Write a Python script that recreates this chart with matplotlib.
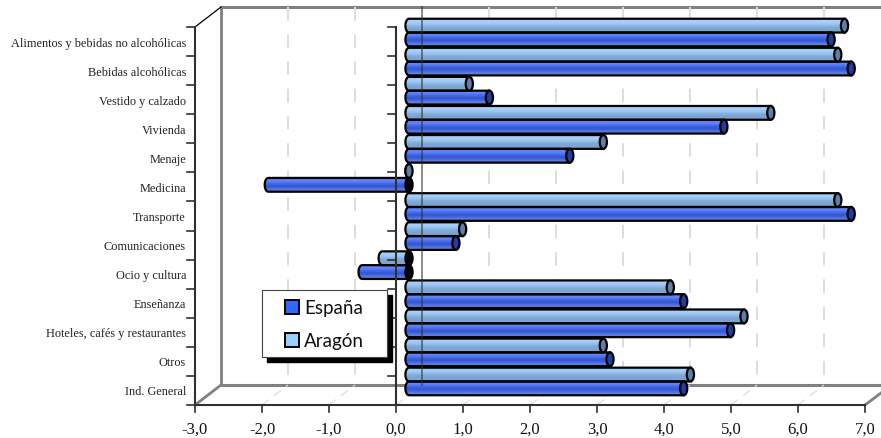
import numpy as np
import matplotlib
matplotlib.use('Agg')
import matplotlib.pyplot as plt
from matplotlib.colors import LinearSegmentedColormap
from matplotlib.patches import Ellipse, PathPatch, Rectangle
from matplotlib.path import Path

categorias = ['Alimentos y bebidas no alcohólicas', 'Bebidas alcohólicas', 'Vestido y calzado',
              'Vivienda', 'Menaje', 'Medicina', 'Transporte', 'Comunicaciones', 'Ocio y cultura',
              'Enseñanza', 'Hoteles, cafés y restaurantes', 'Otros', 'Ind. General']
aragon = [6.5, 6.4, 0.9, 5.4, 2.9, 0.0, 6.4, 0.8, -0.4, 3.9, 5.0, 2.9, 4.2]
espana = [6.3, 6.6, 1.2, 4.7, 2.4, -2.1, 6.6, 0.7, -0.7, 4.1, 4.8, 3.0, 4.1]
xticks = [-3, -2, -1, 0, 1, 2, 3, 4, 5, 6, 7]

W, H = 881, 439
# front plane of the fake 3d box, in pixels
L, R, T, B = 195, 865, 28, 406
px_x = (R - L) / 10
px_y = (B - T) / 13
depth_x = 26 / px_x
depth_y = 20 / px_y

fig = plt.figure(figsize=(W / 100, H / 100), dpi=100)
# axes reach up to the back wall so the first bars are not cut
ax = fig.add_axes([L / W, 1 - B / H, (R - L) / W, (B - T + 20) / H])
ax.axis('off')

ARAGON = ['#a6cff8', '#a6d0fa', '#98c2ef', '#80a9d6', '#7ba3d0', '#86a8d0']
ESPANA = ['#5a7dee', '#5f86fb', '#4468e6', '#3253cc', '#5075e6', '#7088c8']


def cylinder(x0, x1, yc, h, colors, cap_color):
    rx = 3.6 / px_x
    t = np.linspace(np.pi / 2, 3 * np.pi / 2, 20)
    xs = np.r_[x0 + rx * np.cos(t), x1, x1, x0]
    ys = np.r_[yc + h / 2 * np.sin(t), yc - h / 2, yc + h / 2, yc + h / 2]
    outline = Path(np.c_[xs, ys])
    grad = LinearSegmentedColormap.from_list('g', colors)
    im = ax.imshow(np.linspace(0, 1, 32).reshape(-1, 1), cmap=grad, aspect='auto', zorder=4,
                   extent=[x0 - rx, x1, yc + h / 2, yc - h / 2], interpolation='bilinear')
    patch = PathPatch(outline, fc='none', ec='black', lw=1.6, zorder=5, clip_on=False)
    ax.add_patch(patch)
    im.set_clip_path(patch)
    ax.add_patch(Ellipse((x1, yc), 2 * rx, h, fc=cap_color, ec='black', lw=1.6, zorder=6, clip_on=False))


# walls and floor
wall = '#808080'
xb0, xb1 = -3 + depth_x, 7 + 16 / px_x
ax.plot([xb0, xb1], [-depth_y, -depth_y], color=wall, lw=2.2, solid_capstyle='butt', clip_on=False, zorder=1)
ax.plot([xb0, xb0], [-depth_y, 13 - depth_y], color=wall, lw=2, clip_on=False, zorder=1)
ax.plot([xb0, xb1], [13 - depth_y, 13 - depth_y], color=wall, lw=2.2, solid_capstyle='butt', clip_on=False, zorder=1)
ax.plot([-3, xb0], [13, 13 - depth_y], color=wall, lw=2, clip_on=False, zorder=1)
ax.plot([7, 7 + 16 / px_x], [13, 13 - 12 / px_y], color=wall, lw=2, clip_on=False, zorder=1)
ax.plot([-3, xb0], [0, -depth_y], color='black', lw=0.9, clip_on=False, zorder=1)

for v in xticks[1:-1]:
    if v == 0:
        continue
    ax.plot([v + depth_x] * 2, [-depth_y, 13 - depth_y], color='#dddddd', lw=1.4, ls=(0, (7, 7)),
            zorder=1, clip_on=False)
for v in xticks[1:-1]:
    ax.plot([v, v + depth_x], [13, 13 - depth_y], color='#dddddd', lw=0.9, ls=(0, (7, 5)), zorder=1, clip_on=False)

# bars, aragon on top of each band
bar_h = 13.8 / px_y
x_zero = depth_x / 2
for i in range(len(categorias)):
    yc_a = i + 0.5 - depth_y / 2 - bar_h / 2 + 1 / px_y
    yc_e = i + 0.5 - depth_y / 2 + bar_h / 2 + 1 / px_y
    for val, yc, cols, cap in [(aragon[i], yc_a, ARAGON, '#5d7fa8'), (espana[i], yc_e, ESPANA, '#1f3f9a')]:
        if val < 0:
            cap = 'black'
        lo, hi = min(val, 0) + x_zero, max(val, 0) + x_zero
        cylinder(lo, hi, yc, bar_h, cols, cap)

# zero planes and front axes
ax.plot([depth_x] * 2, [-depth_y, 13 - depth_y], color='#303030', lw=1.3, alpha=0.6, zorder=8, clip_on=False)
ax.plot([0, 0], [0, 13], color='#303030', lw=1.5, zorder=7, clip_on=False)
ax.plot([-3, -3], [0, 13], color='#303030', lw=1.5, zorder=7, clip_on=False)
ax.plot([-3, 7], [13, 13], color='#303030', lw=1.5, zorder=7, clip_on=False)
for k in range(14):
    ax.plot([-3 - 8 / px_x, -3], [k, k], color='#303030', lw=1.2, zorder=7, clip_on=False)
    ax.plot([-8 / px_x, 0], [k, k], color='#303030', lw=1.2, zorder=7, clip_on=False)
for v in xticks:
    ax.plot([v, v], [13, 13 + 7 / px_y], color='#303030', lw=1.2, zorder=7, clip_on=False)
    ax.text(v, 13 + 16 / px_y, f'{v:.1f}'.replace('.', ','), ha='center', va='top',
            family='Liberation Serif', fontsize=12, color='#111111')
for i, c in enumerate(categorias):
    ax.text(-3 - 9 / px_x, i + 0.5 + 1 / px_y, c, ha='right', va='center', family='Liberation Serif',
            fontsize=8.8, color='#222222')

ax.set_xlim(-3, 7)
ax.set_ylim(13, -depth_y)

# legend box, placed by hand
def box(x0, y0, w, h, **kw):
    fig.add_artist(Rectangle((x0 / W, 1 - (y0 + h) / H), w / W, h / H, transform=fig.transFigure, **kw))

box(267, 296, 125, 67, fc='black', ec='black', zorder=9)
box(262, 291, 125, 67, fc='white', ec='#444444', lw=0.8, zorder=10)
box(285, 301, 14, 14, fc='#3366ff', ec='black', lw=1.4, zorder=11)
box(285, 334, 14, 14, fc='#99ccff', ec='black', lw=1.4, zorder=11)
fig.text(304 / W, 1 - 309 / H, 'España', family='Lato', fontsize=13.5, va='center', zorder=11, color='#111111')
fig.text(304 / W, 1 - 342 / H, 'Aragón', family='Lato', fontsize=13.5, va='center', zorder=11, color='#111111')

fig.savefig('out.png', dpi=100)
